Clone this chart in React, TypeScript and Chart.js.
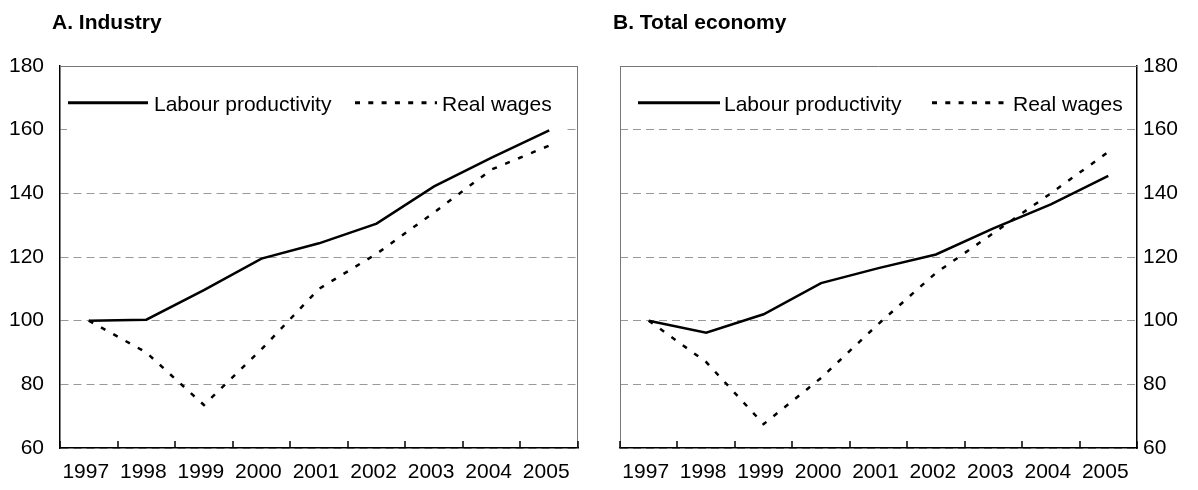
import React, { useEffect, useRef } from "react";
import { Chart, registerables } from "chart.js";

Chart.register(...registerables);

const years = ["1997", "1998", "1999", "2000", "2001", "2002", "2003", "2004", "2005"];
const industryProductivity = [100, 100.3, 109.6, 119.5, 124.3, 130.5, 142.2, 151.2, 159.8];
const industryWages = [100, 90, 73.5, 91, 110, 121, 134, 147.5, 155];
const economyProductivity = [100, 96.2, 102, 111.8, 116.5, 120.8, 129, 136.5, 145.5];
const economyWages = [100, 87, 67.5, 82, 99, 115, 127.5, 140, 153];
const seriesNames = ["Labour productivity", "Real wages"];
const panelTitles = ["A. Industry", "B. Total economy"];
const yMin = 60;
const yMax = 180;
const yStep = 20;

const FONT = "'Liberation Sans', Arial, sans-serif";
const W = 599;
const H = 490;

const decorPlugin = {
  id: "decor",
  beforeDatasetsDraw(chart: any, _a: any, opts: any) {
    const { ctx, chartArea: a } = chart;
    ctx.save();
    if (opts.box) {
      ctx.fillStyle = "#ffffff";
      ctx.fillRect(opts.box.x, opts.box.y, opts.box.w, opts.box.h);
    }
    ctx.strokeStyle = "#777777";
    ctx.lineWidth = 1;
    ctx.setLineDash([]);
    ctx.beginPath();
    ctx.moveTo(a.left, a.top + 0.5);
    ctx.lineTo(a.right, a.top + 0.5);
    if (opts.side === "left") {
      ctx.moveTo(a.right - 0.5, a.top);
      ctx.lineTo(a.right - 0.5, a.bottom);
    } else {
      ctx.moveTo(a.left + 0.5, a.top);
      ctx.lineTo(a.left + 0.5, a.bottom);
    }
    ctx.stroke();
    ctx.restore();
  },
  afterDatasetsDraw(chart: any) {
    const { ctx, chartArea: a } = chart;
    const xs = chart.scales.x;
    const n = xs.getLabels().length;
    ctx.save();
    ctx.strokeStyle = "#000";
    ctx.lineWidth = 1.5;
    ctx.beginPath();
    for (let i = 0; i <= n; i++) {
      const x = Math.round(xs.getPixelForValue(i - 0.5));
      ctx.moveTo(x, a.bottom);
      ctx.lineTo(x, a.bottom - 7);
    }
    ctx.stroke();
    ctx.restore();
  },
  afterDraw(chart: any, _a: any, opts: any) {
    const { ctx } = chart;
    ctx.save();
    ctx.fillStyle = "#000";
    ctx.font = `bold 21px ${FONT}`;
    ctx.textBaseline = "alphabetic";
    ctx.textAlign = "left";
    ctx.fillText(opts.title, opts.titleX, 28.5);
    const ly = opts.legendY;
    chart.data.datasets.forEach((ds: any, i: number) => {
      const item = opts.legend[i];
      ctx.strokeStyle = ds.borderColor;
      ctx.lineWidth = 3;
      ctx.lineCap = "butt";
      ctx.setLineDash(i === 1 ? [5, 8.3] : []);
      ctx.beginPath();
      ctx.moveTo(item.sx, ly);
      ctx.lineTo(item.sx + item.sw, ly);
      ctx.stroke();
      ctx.setLineDash([]);
      ctx.font = `21px ${FONT}`;
      ctx.fillStyle = "#000";
      ctx.fillText(ds.label, item.tx, ly + 7.8);
    });
    ctx.restore();
  },
};

function makeConfig(idx: number): any {
  const left = idx === 0;
  const prod = left ? industryProductivity : economyProductivity;
  const wages = left ? industryWages : economyWages;
  return {
    type: "line",
    data: {
      labels: years,
      datasets: [
        {
          label: seriesNames[0],
          data: prod,
          borderColor: "#000",
          borderWidth: 2.5,
          pointRadius: 0,
          tension: 0,
          fill: false,
        },
        {
          label: seriesNames[1],
          data: wages,
          borderColor: "#000",
          borderWidth: 2.5,
          borderDash: [5, 9],
          pointRadius: 0,
          tension: 0,
          fill: false,
        },
      ],
    },
    options: {
      responsive: false,
      animation: false,
      devicePixelRatio: 1,
      layout: {
        padding: left
          ? { left: 0, right: 21, top: 66, bottom: 0 }
          : { left: 21, right: 0, top: 66, bottom: 0 },
      },
      plugins: {
        legend: { display: false },
        title: { display: false },
        tooltip: { enabled: false },
        decor: {
          side: left ? "left" : "right",
          title: panelTitles[idx],
          titleX: left ? 52 : 14,
          legendY: 102.7,
          box: left ? { x: 67, y: 80, w: 500, h: 50.5 } : null,
          legend: left
            ? [
                { sx: 68, sw: 80, tx: 154 },
                { sx: 355, sw: 82, tx: 442 },
              ]
            : [
                { sx: 39, sw: 82, tx: 125 },
                { sx: 333, sw: 78, tx: 414 },
              ],
        },
      },
      scales: {
        x: {
          type: "category",
          offset: true,
          grid: { display: false, drawTicks: false, offset: true },
          border: { display: true, color: "#000", width: 1.5 },
          ticks: {
            color: "#000",
            font: { family: FONT, size: 21 },
            padding: 12,
            labelOffset: -3,
            maxRotation: 0,
            autoSkip: false,
          },
          afterFit(scale: any) {
            scale.height = 42;
          },
        },
        y: {
          position: left ? "left" : "right",
          min: yMin,
          max: yMax,
          grid: { color: "#999999", lineWidth: 1, drawTicks: false },
          border: { display: true, color: "#000", width: 1.5, dash: [8, 5] },
          ticks: {
            stepSize: yStep,
            color: "#000",
            font: { family: FONT, size: 21 },
            padding: left ? 16 : 6,
          },
          afterFit(scale: any) {
            scale.width = left ? 60 : 61;
          },
        },
      },
    },
    plugins: [decorPlugin],
  };
}

function Panel({ idx }: { idx: number }) {
  const ref = useRef<HTMLCanvasElement | null>(null);
  useEffect(() => {
    if (!ref.current) return;
    const chart = new Chart(ref.current, makeConfig(idx));
    return () => chart.destroy();
  }, [idx]);
  return (
    <canvas
      ref={ref}
      width={W}
      height={H}
      style={{ position: "absolute", top: 0, left: idx === 0 ? 0 : W, width: W, height: H }}
    />
  );
}

export default function App() {
  return (
    <div style={{ position: "absolute", left: 0, top: 0, width: 1198, height: 490, background: "#fff" }}>
      <Panel idx={0} />
      <Panel idx={1} />
    </div>
  );
}
